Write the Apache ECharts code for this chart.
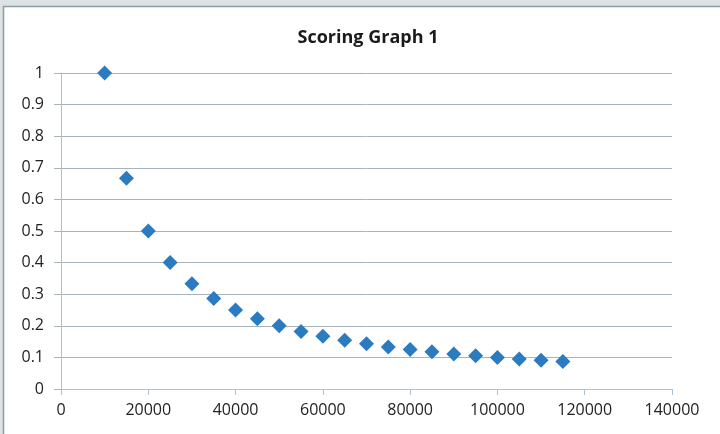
<!DOCTYPE html>
<html><head><meta charset="utf-8">
<script src="https://cdn.jsdelivr.net/npm/echarts@6/dist/echarts.min.js"></script>
<style>html,body{margin:0;padding:0;background:#dde2e5}#c{width:720px;height:434px}</style>
</head><body><div id="c"></div>
<script>
const xValues = [10000,15000,20000,25000,30000,35000,40000,45000,50000,55000,60000,65000,70000,75000,80000,85000,90000,95000,100000,105000,110000,115000];
const yValues = [1,0.667,0.5,0.4,0.333,0.286,0.25,0.222,0.2,0.182,0.167,0.154,0.143,0.133,0.125,0.118,0.111,0.105,0.1,0.095,0.091,0.087];
const titleText = 'Scoring Graph 1';
const chart = echarts.init(document.getElementById('c'));
chart.setOption({
  animation:false,
  backgroundColor:'#dde2e5',
  graphic:[{type:'rect',shape:{x:3.5,y:6.5,width:720,height:430},style:{fill:'#ffffff',stroke:'#8e9ca6',lineWidth:1.5},z:-10}],
  title:{text:titleText,left:363,top:24,textAlign:'center',textStyle:{fontFamily:'Open Sans',fontWeight:'bold',fontSize:18,color:'#1a1a1a'}},
  grid:{left:61,right:48,top:73,bottom:45,containLabel:false},
  xAxis:{type:'value',min:0,max:140000,interval:20000,
    axisLine:{show:true,lineStyle:{color:'#a9c2d4'}},
    axisTick:{show:true,length:6,lineStyle:{color:'#a9c2d4'}},
    axisLabel:{fontFamily:'Open Sans',fontSize:16,color:'#222',margin:13,formatter:v=>String(v)},
    splitLine:{show:false}},
  yAxis:{type:'value',min:0,max:1,interval:0.1,
    axisLine:{show:true,lineStyle:{color:'#a9c2d4'}},
    axisTick:{show:true,length:7,lineStyle:{color:'#a8b4bc'}},
    axisLabel:{fontFamily:'Open Sans',fontSize:16,color:'#222',margin:17,formatter:v=>String(Math.round(v*10)/10)},
    splitLine:{show:true,lineStyle:{color:'#a8b4bc',width:1}}},
  series:[{type:'scatter',symbol:'diamond',symbolSize:15,itemStyle:{color:'#2b7bc0',opacity:1},
    data:xValues.map((x,i)=>[x,yValues[i]])}]
});
</script></body></html>
